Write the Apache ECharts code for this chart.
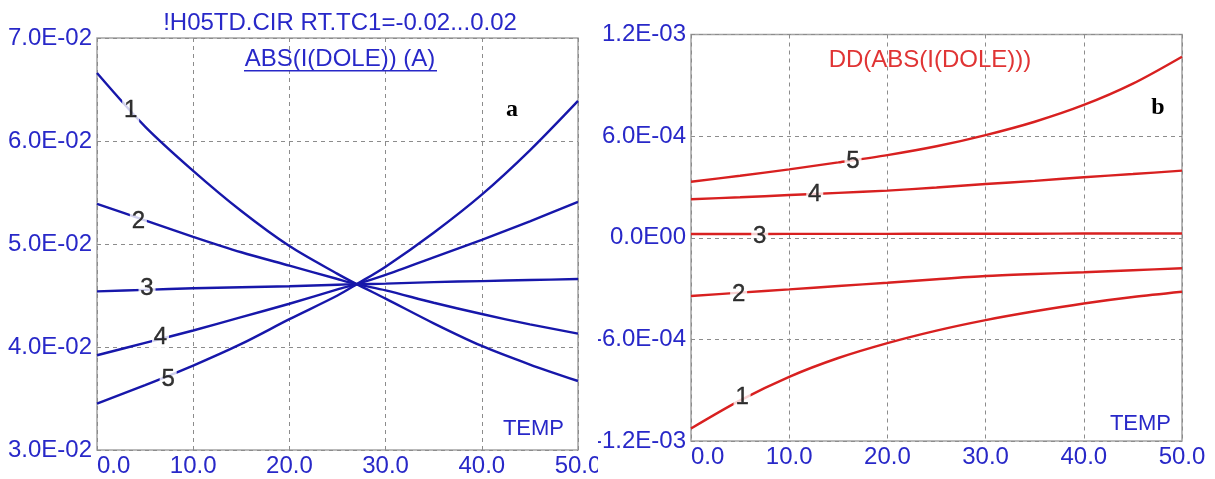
<!DOCTYPE html>
<html>
<head>
<meta charset="utf-8">
<script src="https://cdn.jsdelivr.net/npm/echarts@6/dist/echarts.min.js"></script>
<style>
html,body{margin:0;padding:0;background:#fff;}
#wrap{position:relative;width:1215px;height:479px;overflow:hidden;background:#fff;}
#left{position:absolute;left:0;top:0;width:598px;height:479px;}
#right{position:absolute;left:598px;top:0;width:617px;height:479px;}
</style>
</head>
<body>
<div id="wrap"><div id="left"></div><div id="right"></div></div>
<script>
// ---- data ----
const temps = [0, 5, 10, 15, 20, 25, 27, 30, 35, 40, 45, 50];
const absI1 = [0.0666, 0.0614, 0.0571, 0.0532, 0.0498, 0.0471, 0.0461, 0.0447, 0.0423, 0.0401, 0.0383, 0.0367];
const absI2 = [0.0539, 0.0523, 0.0507, 0.0492, 0.0479, 0.0466, 0.0461, 0.0455, 0.0443, 0.0432, 0.0422, 0.0413];
const absI3 = [0.0454, 0.04555, 0.0457, 0.0458, 0.0459, 0.04605, 0.0461, 0.04615, 0.0463, 0.0464, 0.0465, 0.0466];
const absI4 = [0.0392, 0.0404, 0.0416, 0.0429, 0.0442, 0.0456, 0.0461, 0.0470, 0.0487, 0.0504, 0.0522, 0.0541];
const absI5 = [0.0345, 0.0363, 0.0382, 0.0403, 0.0427, 0.0450, 0.0461, 0.0478, 0.0511, 0.0548, 0.0591, 0.0639];

const dTemps = [0, 5, 10, 15, 20, 25, 30, 35, 40, 45, 50];
const dd1 = [-1.126e-3, -0.960e-3, -0.821e-3, -0.710e-3, -0.622e-3, -0.548e-3, -0.486e-3, -0.434e-3, -0.388e-3, -0.350e-3, -0.319e-3];
const dd2 = [-0.344e-3, -0.324e-3, -0.305e-3, -0.285e-3, -0.266e-3, -0.245e-3, -0.226e-3, -0.214e-3, -0.204e-3, -0.192e-3, -0.180e-3];
const dd3 = [0.022e-3, 0.022e-3, 0.023e-3, 0.023e-3, 0.023e-3, 0.024e-3, 0.024e-3, 0.024e-3, 0.025e-3, 0.025e-3, 0.025e-3];
const dd4 = [0.227e-3, 0.239e-3, 0.252e-3, 0.265e-3, 0.278e-3, 0.297e-3, 0.317e-3, 0.336e-3, 0.357e-3, 0.376e-3, 0.396e-3];
const dd5 = [0.331e-3, 0.366e-3, 0.404e-3, 0.445e-3, 0.488e-3, 0.540e-3, 0.606e-3, 0.685e-3, 0.784e-3, 0.910e-3, 1.069e-3];

const curveNames = ['1', '2', '3', '4', '5'];
const leftLabelT = [3.5, 4.3, 5.2, 6.6, 7.4];
const leftLabelV = [0.0630, 0.0522, 0.0457, 0.0409, 0.0369];
const rightLabelT = [5.2, 4.85, 7.0, 12.6, 16.5];
const rightLabelV = [-0.945e-3, -0.335e-3, 0.01e-3, 0.258e-3, 0.45e-3];

const xMin = 0, xMax = 50, xStep = 10;
const leftYMin = 0.03, leftYMax = 0.07, leftYStep = 0.01;
const rightYMin = -1.2e-3, rightYMax = 1.2e-3, rightYStep = 6e-4;

const leftTitle = '!H05TD.CIR RT.TC1=-0.02...0.02';
const leftSubTitle = 'ABS(I(DOLE)) (A)';
const rightTitle = 'DD(ABS(I(DOLE)))';
const xName = 'TEMP';

// ---- styling ----
const FONT = '"Liberation Sans", Arial, sans-serif';
const AXIS_BLUE = '#2828c8';
const LINE_BLUE = '#1717aa';
const LINE_RED = '#d82020';
const TITLE_RED = '#e03434';

function expFmt(v) {
  if (Math.abs(v) < 1e-12) return '0.0E00';
  let e = Math.floor(Math.log10(Math.abs(v)) + 1e-9);
  let m = v / Math.pow(10, e);
  let ms = m.toFixed(1);
  if (Math.abs(parseFloat(ms)) >= 10) { e += 1; ms = (v / Math.pow(10, e)).toFixed(1); }
  const es = (e < 0 ? '-' : '') + String(Math.abs(e)).padStart(2, '0');
  return ms + 'E' + es;
}

function pairs(xs, ys) { return xs.map((x, i) => [x, ys[i]]); }

function makeOption(cfg) {
  const series = cfg.curves.map((ys, i) => ({
    type: 'line',
    data: pairs(cfg.xs, ys),
    showSymbol: false,
    smooth: 0.3,
    lineStyle: { color: cfg.lineColor, width: 2.4 },
    itemStyle: { color: cfg.lineColor },
    z: 2,
    silent: true
  }));
  series.push({
    type: 'scatter',
    data: cfg.labelT.map((t, i) => ({ value: [t, cfg.labelV[i]], name: curveNames[i] })),
    symbol: 'rect',
    symbolSize: [17, 24],
    itemStyle: { color: '#ffffff' },
    label: {
      show: true, position: 'inside', formatter: p => p.name,
      color: '#000', fontSize: 24, fontFamily: FONT,
      textBorderColor: '#000', textBorderWidth: 0.4
    },
    z: 5,
    silent: true
  });
  return {
    animation: false,
    backgroundColor: '#ffffff',
    grid: {
      left: cfg.grid.left, top: cfg.grid.top, width: cfg.grid.width, height: cfg.grid.height,
      containLabel: false, outerBoundsMode: 'none',
      show: true, borderColor: '#a3a3a3', borderWidth: 1.5, backgroundColor: '#fff'
    },
    xAxis: {
      type: 'value', min: xMin, max: xMax, interval: xStep,
      axisLine: { show: false }, axisTick: { show: false },
      splitLine: { show: true, lineStyle: { color: '#8c8c8c', type: [4, 4], width: 1 } },
      axisLabel: {
        color: AXIS_BLUE, fontSize: 24, fontFamily: FONT, margin: 4,
        formatter: v => v.toFixed(1), alignMinLabel: 'left'
      }
    },
    yAxis: {
      type: 'value', min: cfg.yMin, max: cfg.yMax, interval: cfg.yStep,
      axisLine: { show: false }, axisTick: { show: false },
      splitLine: { show: true, lineStyle: { color: '#8c8c8c', type: [4, 4], width: 1 } },
      axisLabel: { color: AXIS_BLUE, fontSize: 24, fontFamily: FONT, margin: 5, formatter: expFmt }
    },
    graphic: cfg.graphic,
    series: series
  };
}

const leftChart = echarts.init(document.getElementById('left'), null, { renderer: 'canvas' });
leftChart.setOption(makeOption({
  xs: temps,
  curves: [absI1, absI2, absI3, absI4, absI5],
  lineColor: LINE_BLUE,
  labelT: leftLabelT, labelV: leftLabelV,
  yMin: leftYMin, yMax: leftYMax, yStep: leftYStep,
  grid: { left: 97, top: 38, width: 481, height: 412 },
  graphic: [
    { type: 'text', x: 340, y: 23, z: 10, silent: true,
      style: { text: leftTitle, fill: AXIS_BLUE, font: '24px ' + FONT, textAlign: 'center', textVerticalAlign: 'middle' } },
    { type: 'text', x: 340, y: 59, z: 10, silent: true,
      style: { text: leftSubTitle, fill: AXIS_BLUE, font: '24px ' + FONT, textAlign: 'center', textVerticalAlign: 'middle' } },
    { type: 'rect', z: 10, silent: true, shape: { x: 244, y: 70, width: 193, height: 1.5 }, style: { fill: AXIS_BLUE } },
    { type: 'text', x: 512, y: 110, z: 10, silent: true,
      style: { text: 'a', fill: '#000', font: 'bold 24px "Liberation Serif", "Times New Roman", serif', textAlign: 'center', textVerticalAlign: 'middle' } },
    { type: 'text', x: 564, y: 429, z: 10, silent: true,
      style: { text: xName, fill: AXIS_BLUE, font: '22px ' + FONT, textAlign: 'right', textVerticalAlign: 'middle' } }
  ]
}));

const rightChart = echarts.init(document.getElementById('right'), null, { renderer: 'canvas' });
rightChart.setOption(makeOption({
  xs: dTemps,
  curves: [dd1, dd2, dd3, dd4, dd5],
  lineColor: LINE_RED,
  labelT: rightLabelT, labelV: rightLabelV,
  yMin: rightYMin, yMax: rightYMax, yStep: rightYStep,
  grid: { left: 93, top: 34.5, width: 491, height: 406.5 },
  graphic: [
    { type: 'text', x: 332, y: 60, z: 10, silent: true,
      style: { text: rightTitle, fill: TITLE_RED, font: '24px ' + FONT, textAlign: 'center', textVerticalAlign: 'middle' } },
    { type: 'text', x: 560, y: 108, z: 10, silent: true,
      style: { text: 'b', fill: '#000', font: 'bold 24px "Liberation Serif", "Times New Roman", serif', textAlign: 'center', textVerticalAlign: 'middle' } },
    { type: 'text', x: 573, y: 424, z: 10, silent: true,
      style: { text: xName, fill: AXIS_BLUE, font: '22px ' + FONT, textAlign: 'right', textVerticalAlign: 'middle' } }
  ]
}));
</script>
</body>
</html>
